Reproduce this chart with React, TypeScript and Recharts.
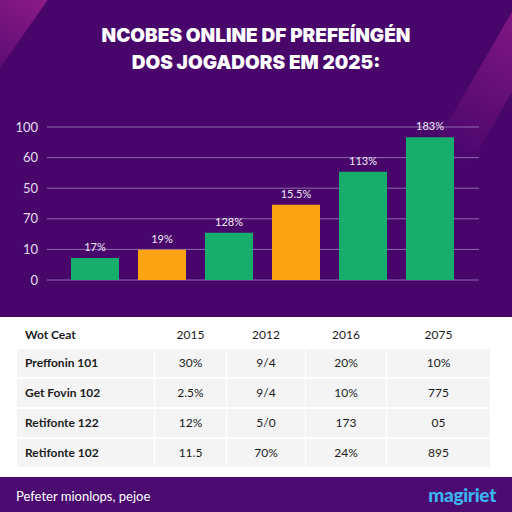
import { Bar, BarChart, CartesianGrid, Cell, LabelList, XAxis, YAxis } from 'recharts'

const TITLE_LINES = ['NCOBES ONLINE DF PREFEÍNGÉN', 'DOS JOGADORS EM 2025:']

const categories = ['a', 'b', 'c', 'd', 'e', 'f']
const values = [14.4, 19.8, 30.9, 49.2, 70.8, 93.3]
const valueLabels = ['17%', '19%', '128%', '15.5%', '113%', '183%']
const barColors = ['#17ad6c', '#fca313', '#17ad6c', '#fca313', '#17ad6c', '#17ad6c']

const yTicks = [0, 20, 40, 60, 80, 100]
const yTickLabels = ['0', '10', '70', '50', '60', '100']

const tableHeader = ['Wot Ceat', '2015', '2012', '2016', '2075']
const rowLabels = ['Preffonin 101', 'Get Fovin 102', 'Retifonte 122', 'Retifonte 102']
const col2015 = ['30%', '2.5%', '12%', '11.5']
const col2012 = ['9/4', '9/4', '5/0', '70%']
const col2016 = ['20%', '10%', '173', '24%']
const col2075 = ['10%', '775', '05', '895']

const FOOTER_TEXT = 'Pefeter mionlops, pejoe'
const LOGO_TEXT = 'magiriet'

const BG = '#48066b'
const GRID = '#8d6aad'

const chartData = categories.map((name, i) => ({ name, value: values[i], label: valueLabels[i] }))

// table column layout: left edge + width
const COLS = [
  { left: 17, width: 137 },
  { left: 155, width: 71 },
  { left: 227, width: 78 },
  { left: 306, width: 80 },
  { left: 387, width: 103 },
]
const ROW_TOPS = [349, 379, 409, 439]
const ROW_H = 28

function Table() {
  const cols = [rowLabels, col2015, col2012, col2016, col2075]
  return (
    <div style={{ position: 'absolute', left: 0, top: 317, width: 512, height: 160, background: '#ffffff' }}>
      {tableHeader.map((h, c) => (
        <div
          key={h}
          style={{
            position: 'absolute',
            left: COLS[c].left + (c === 0 ? 8 : 0),
            width: COLS[c].width,
            top: 9,
            height: 18,
            lineHeight: '18px',
            fontSize: 12,
            fontWeight: c === 0 ? 700 : 400,
            color: '#1b1b1b',
            textAlign: c === 0 ? 'left' : 'center',
          }}
        >
          {h}
        </div>
      ))}
      {ROW_TOPS.map((top, r) =>
        COLS.map((col, c) => (
          <div
            key={`${r}-${c}`}
            style={{
              position: 'absolute',
              left: col.left,
              width: col.width,
              top: top - 317,
              height: ROW_H,
              lineHeight: `${ROW_H}px`,
              background: '#f4f4f5',
              fontSize: 12,
              fontWeight: c === 0 ? 700 : 400,
              color: '#1b1b1b',
              textAlign: c === 0 ? 'left' : 'center',
              paddingLeft: c === 0 ? 8 : 0,
              boxSizing: 'border-box',
            }}
          >
            {cols[c][r]}
          </div>
        )),
      )}
    </div>
  )
}

export default function App() {
  return (
    <div
      style={{
        position: 'fixed',
        left: 0,
        top: 0,
        width: 512,
        height: 512,
        overflow: 'hidden',
        background: BG,
        fontFamily: 'Lato, "Noto Sans", sans-serif',
      }}
    >
      {/* magenta streaks in the corners */}
      <div style={{ position: 'absolute', left: -40, top: -30, width: 60, height: 120, background: 'linear-gradient(180deg, #a0208f, rgba(120,20,140,0))', transform: 'rotate(35deg)', opacity: 0.8 }} />
      <div style={{ position: 'absolute', left: 470, top: 10, width: 40, height: 160, background: 'linear-gradient(180deg, #9a1e8e, rgba(120,20,140,0))', transform: 'rotate(30deg)', opacity: 0.7 }} />

      <div style={{ position: 'absolute', left: 0, top: 22, width: 512, textAlign: 'center', color: '#ffffff', fontFamily: 'Inter, Lato, sans-serif', fontWeight: 900, fontSize: 19, lineHeight: '27px' }}>
        {TITLE_LINES.map((t) => (
          <div key={t}>{t}</div>
        ))}
      </div>

      <div style={{ position: 'absolute', left: 0, top: 110 }}>
        <BarChart width={512} height={190} data={chartData} margin={{ top: 17, right: 33, left: 0, bottom: 20 }}>
          <CartesianGrid stroke={GRID} vertical={false} />
          <XAxis dataKey="name" hide padding={{ left: 14, right: 16 }} />
          <YAxis
            width={47}
            domain={[0, 100]}
            ticks={yTicks}
            interval={0}
            axisLine={false}
            tickLine={false}
            tickMargin={3}
            tick={{ fill: '#e6def0', fontSize: 13, fontFamily: 'Lato, sans-serif' }}
            tickFormatter={(v: number) => yTickLabels[yTicks.indexOf(v)]}
          />
          <Bar dataKey="value" barSize={48} isAnimationActive={false}>
            {chartData.map((d, i) => (
              <Cell key={d.name} fill={barColors[i]} />
            ))}
            <LabelList dataKey="label" position="top" offset={7} fill="#f2ecf8" fontSize={11} fontFamily="Lato, sans-serif" />
          </Bar>
        </BarChart>
      </div>

      <Table />

      <div style={{ position: 'absolute', left: 0, top: 477, width: 512, height: 35, background: '#4a0a70' }}>
        <div style={{ position: 'absolute', left: 16, top: 11, color: '#ffffff', fontSize: 13, fontFamily: 'Lato, sans-serif' }}>{FOOTER_TEXT}</div>
        <div style={{ position: 'absolute', right: 16, top: 6, color: '#3bb6f0', fontSize: 19, fontWeight: 900, fontFamily: 'Lato, sans-serif', letterSpacing: -0.3 }}>{LOGO_TEXT}</div>
      </div>
    </div>
  )
}
